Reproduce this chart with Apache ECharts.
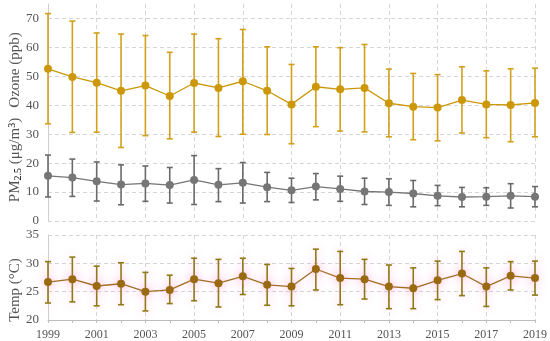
<!DOCTYPE html>
<html><head><meta charset="utf-8">
<script src="https://cdn.jsdelivr.net/npm/echarts@6/dist/echarts.min.js"></script>
<style>html,body{margin:0;padding:0;background:#fff}#c{width:550px;height:341px}</style>
</head><body><div id="c"></div>
<script>
const years = ['1999','2000','2001','2002','2003','2004','2005','2006','2007','2008','2009','2010','2011','2012','2013','2014','2015','2016','2017','2018','2019'];
const ozoneMean  = [52.6,49.8,47.8,45.0,46.8,43.2,47.7,46.0,48.3,45.0,40.3,46.4,45.5,46.0,40.7,39.5,39.2,41.8,40.3,40.1,40.8];
const ozoneUpper = [71.7,69.1,65.0,64.6,64.1,58.3,64.6,63.0,66.2,60.2,54.1,60.2,59.9,61.0,52.5,51.0,50.6,53.3,51.9,52.6,52.8];
const ozoneLower = [33.6,30.6,30.7,25.4,29.5,28.4,30.7,29.2,30.0,29.9,26.7,32.6,31.1,30.8,29.1,28.1,27.7,30.4,28.8,27.4,29.1];
const pmMean  = [15.6,15.0,13.7,12.6,13.0,12.4,14.2,12.5,13.2,11.7,10.6,11.9,11.1,10.2,10.0,9.5,8.7,8.3,8.4,8.7,8.4];
const pmUpper = [22.8,21.4,20.4,19.4,19.0,18.5,22.6,18.1,20.2,16.8,14.8,16.4,15.5,14.8,14.6,14.0,12.3,11.6,11.5,12.9,11.9];
const pmLower = [8.3,8.5,6.9,5.6,6.8,6.2,5.7,6.7,6.2,6.7,6.4,7.3,6.8,5.7,5.4,4.9,5.3,4.9,5.4,4.5,4.9];
const tempMean  = [26.7,27.2,26.0,26.4,25.0,25.3,27.2,26.5,27.7,26.2,25.9,29.0,27.4,27.2,25.9,25.6,27.0,28.2,25.9,27.8,27.4];
const tempUpper = [30.3,31.1,29.5,30.1,28.4,27.9,30.9,30.7,30.9,29.8,29.1,32.5,32.1,30.7,29.7,29.2,30.4,32.1,29.2,30.3,30.4];
const tempLower = [23.0,23.2,22.5,22.7,21.6,22.9,23.4,22.3,24.5,22.6,22.5,25.3,22.7,23.7,22.0,22.0,23.6,24.3,22.4,25.3,24.4];

const FONT = '"Liberation Serif", "DejaVu Serif", serif';
const COL = {oz:'#CC980A', ozBar:'#D2A01A', pm:'#767676', pmBar:'#6A6A6A', temp:'#9A6A10', tempLine:'#A0701E', tempBar:'#8E7A12'};
const GLOW = 'rgba(255,120,190,0.45)';

function errSeries(lower, upper, color, xi, yi, glow) {
  return {
    type: 'custom', xAxisIndex: xi, yAxisIndex: yi, z: 2,
    data: lower.map((l, i) => [i, l, upper[i]]),
    renderItem: function (params, api) {
      const lo = api.coord([api.value(0), api.value(1)]);
      const hi = api.coord([api.value(0), api.value(2)]);
      const w = 3;
      const st = {stroke: color, lineWidth: 1.6};
      if (glow) { st.shadowBlur = 10; st.shadowColor = GLOW; }
      return {type: 'group', children: [
        {type: 'line', shape: {x1: lo[0], y1: lo[1], x2: hi[0], y2: hi[1]}, style: st},
        {type: 'line', shape: {x1: lo[0]-w, y1: lo[1], x2: lo[0]+w, y2: lo[1]}, style: st},
        {type: 'line', shape: {x1: hi[0]-w, y1: hi[1], x2: hi[0]+w, y2: hi[1]}, style: st}
      ]};
    }
  };
}

const chart = echarts.init(document.getElementById('c'));
const splitDash = {show: true, lineStyle: {color: '#d6d6d6', type: [4, 3], width: 1}};
chart.setOption({
  animation: false,
  backgroundColor: '#fff',
  grid: [
    {left: 48, right: 15, top: 4, height: 217},
    {left: 48, right: 15, top: 235, height: 85}
  ],
  xAxis: [
    {gridIndex: 0, type: 'category', data: years, boundaryGap: false,
     axisLine: {show: false}, axisTick: {show: false}, axisLabel: {show: false},
     splitLine: Object.assign({interval: 1}, splitDash)},
    {gridIndex: 1, type: 'category', data: years, boundaryGap: false,
     axisLine: {show: true, lineStyle: {color: '#bdbdbd', width: 1}},
     axisTick: {show: true, interval: 0, length: 3, lineStyle: {color: '#bdbdbd'}},
     axisLabel: {interval: 1, fontFamily: FONT, fontSize: 12, color: '#555', margin: 9},
     splitLine: Object.assign({interval: 1}, splitDash)}
  ],
  yAxis: [
    {gridIndex: 0, type: 'value', min: 0, max: 75, interval: 10,
     axisLine: {show: true, lineStyle: {color: '#cfcfcf'}}, axisTick: {show: false},
     axisLabel: {fontFamily: FONT, fontSize: 13, color: '#555', margin: 9, showMaxLabel: false},
     splitLine: Object.assign({showMaxLine: false}, splitDash)},
    {gridIndex: 1, type: 'value', min: 20, max: 35, interval: 5,
     axisLine: {show: true, lineStyle: {color: '#cfcfcf'}}, axisTick: {show: false},
     axisLabel: {fontFamily: FONT, fontSize: 13, color: '#555', margin: 9},
     splitLine: splitDash}
  ],
  graphic: [
    {type: 'text', x: 15, y: 70, rotation: Math.PI/2,
     style: {text: 'Ozone (ppb)', font: '15px ' + FONT, fill: '#555', align: 'center', verticalAlign: 'middle'}},
    {type: 'text', x: 15, y: 160, rotation: Math.PI/2,
     style: {text: '{n|PM}{s|2.5}{n| (μg/m}{p|3}{n|)}', align: 'center', verticalAlign: 'middle',
       rich: {n: {fontFamily: FONT, fontSize: 15, fill: '#555', color: '#555'},
              s: {fontFamily: FONT, fontSize: 10, color: '#555', verticalAlign: 'bottom', padding: [6,0,0,0]},
              p: {fontFamily: FONT, fontSize: 10, color: '#555', verticalAlign: 'top', padding: [0,0,6,0]}}}},
    {type: 'text', x: 15, y: 290, rotation: Math.PI/2,
     style: {text: 'Temp (°C)', font: '15px ' + FONT, fill: '#555', align: 'center', verticalAlign: 'middle'}}
  ],
  series: [
    errSeries(ozoneLower, ozoneUpper, COL.ozBar, 0, 0, false),
    errSeries(pmLower, pmUpper, COL.pmBar, 0, 0, false),
    errSeries(tempLower, tempUpper, COL.tempBar, 1, 1, true),
    {type: 'line', xAxisIndex: 0, yAxisIndex: 0, data: ozoneMean, z: 3,
     symbol: 'circle', symbolSize: 8, itemStyle: {color: COL.oz},
     lineStyle: {color: COL.oz, width: 1.3}},
    {type: 'line', xAxisIndex: 0, yAxisIndex: 0, data: pmMean, z: 3,
     symbol: 'circle', symbolSize: 8, itemStyle: {color: COL.pm},
     lineStyle: {color: COL.pm, width: 1.3}},
    {type: 'line', xAxisIndex: 1, yAxisIndex: 1, data: tempMean, z: 3,
     symbol: 'circle', symbolSize: 8,
     itemStyle: {color: COL.temp, shadowBlur: 10, shadowColor: GLOW},
     lineStyle: {color: COL.tempLine, width: 1.3, shadowBlur: 10, shadowColor: GLOW}}
  ]
});
</script></body></html>
